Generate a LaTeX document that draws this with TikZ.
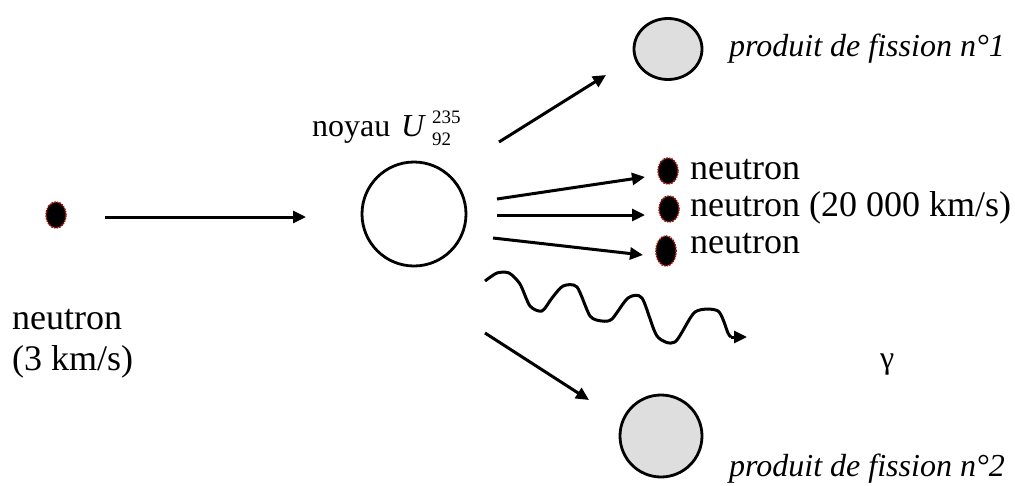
\documentclass[tikz,border=0pt]{standalone}
\usepackage{fontspec}
\setmainfont{Liberation Serif}
\usetikzlibrary{arrows.meta,shapes.geometric}
\definecolor{dotred}{RGB}{150,20,10}
\definecolor{prodgray}{RGB}{222,222,222}
\begin{document}
\begin{tikzpicture}[x=1pt,y=-1pt,
  arr/.style={line width=3pt,-{Triangle[length=13pt,width=12pt]}},
  neut/.style={ellipse,fill=black,draw=dotred,densely dotted,line width=1.6pt,minimum width=20pt,minimum height=26pt,inner sep=0pt},
  prod/.style={ellipse,fill=prodgray,draw=black,line width=2.8pt,inner sep=0pt},
  big/.style={font=\fontsize{36}{40}\selectfont},
  ital/.style={font=\fontsize{32}{36}\selectfont\itshape},
  lbl/.style={inner sep=0pt,anchor=base west}]
\useasboundingbox (0,0) rectangle (1015,485);
% left neutron
\node[neut] (n0) at (56,215) {};
\coordinate (a0s) at (105,217);
\coordinate (a0e) at (306,217);
\draw[arr] (a0s) -- (a0e);
\node[lbl,big] (t0a) at (12,329) {neutron};
\node[lbl,big] (t0b) at (12,370) {(3 km/s)};
% nucleus
\node[circle,draw=black,line width=2.8pt,minimum size=104pt,inner sep=0pt] (nuc) at (414,214) {};
\node[lbl,font=\fontsize{32}{34}\selectfont] (noy) at (312,136) {noyau};
\node[lbl,font=\fontsize{32}{34}\selectfont\itshape] (U) at (401,136) {U};
\node[lbl,font=\fontsize{19}{21}\selectfont] (sup) at (432,123) {235};
\node[lbl,font=\fontsize{19}{21}\selectfont] (sub) at (432,145) {92};
% product 1
\node[prod,minimum width=68pt,minimum height=61pt] (p1) at (668,49) {};
\node[lbl,ital] (tp1) at (729,56) {produit de fission n°1};
\coordinate (a1s) at (499,142);
\coordinate (a1e) at (606,75);
\draw[arr] (a1s) -- (a1e);
% neutrons out
\node[neut] (n1) at (668,171) {};
\node[neut] (n2) at (669,209) {};
\node[neut,minimum height=30pt] (n3) at (666,251) {};
\coordinate (b1s) at (497,199);
\coordinate (b1e) at (645,177);
\coordinate (b2s) at (497,215);
\coordinate (b2e) at (645,215);
\coordinate (b3s) at (493,238);
\coordinate (b3e) at (643,255);
\draw[arr] (b1s) -- (b1e);
\draw[arr] (b2s) -- (b2e);
\draw[arr] (b3s) -- (b3e);
\node[lbl,big] (tn1) at (690,179) {neutron};
\node[lbl,big] (tn2) at (690,216) {neutron (20 000 km/s)};
\node[lbl,big] (tn3) at (690,253) {neutron};
% gamma wave
\coordinate (ws) at (485,281);
\coordinate (wb) at (731,337);
\coordinate (we) at (747,337);
\draw[line width=3pt,line join=round] plot[smooth,tension=0.45] coordinates {
 (485,281) (497,273) (509,273) (520,284) (530,306) (542,311) (552,298) (563,286) (577,287)
 (590,316) (602,321) (612,319) (628,298) (642,298) (657,336) (675,342) (695,312) (718,311) (728,333) (731,337)};
\draw[arr] (wb) -- (we);
\node[lbl,font=\fontsize{32}{36}\selectfont] (gam) at (880,368) {γ};
% product 2
\coordinate (a2s) at (485,333);
\coordinate (a2e) at (589,400);
\draw[arr] (a2s) -- (a2e);
\node[prod,minimum width=82pt,minimum height=82pt] (p2) at (661,436) {};
\node[lbl,ital] (tp2) at (729,476) {produit de fission n°2};
\end{tikzpicture}
\end{document}
